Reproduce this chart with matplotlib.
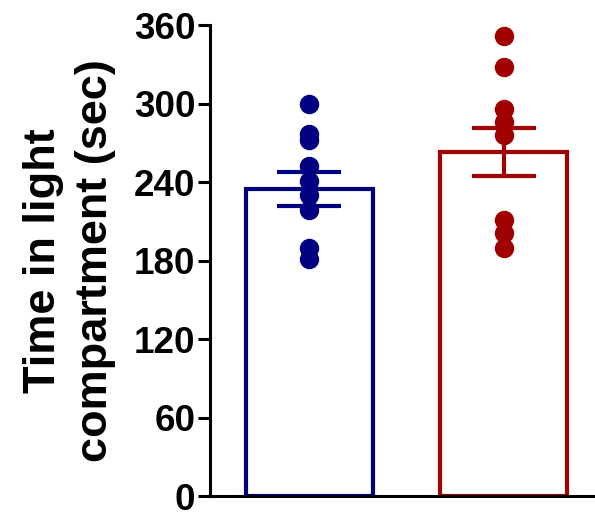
#!/usr/bin/env python3
# Bar + scatter chart: time in light compartment

import numpy as np
import matplotlib
matplotlib.use("Agg")
import matplotlib.pyplot as plt

# Data
groups = ["Group 1", "Group 2"]
colors = ["#000080", "#A00000"]
means = [235, 263]
sems = [13, 18]
points_blue = [300, 277, 272, 252, 241, 230, 219, 190, 181]
points_red = [352, 328, 296, 286, 276, 211, 201, 190]
yticks = [0, 60, 120, 180, 240, 300, 360]

plt.rcParams["font.family"] = ["Liberation Sans", "DejaVu Sans"]
plt.rcParams["font.weight"] = "bold"

fig = plt.figure(figsize=(5.95, 5.13), dpi=100)
ax = fig.add_axes([0.353, 0.033, 0.647, 0.918])

x = np.arange(len(groups))

# Open bars
ax.bar(x, means, width=0.655, color="white", edgecolor=colors,
       linewidth=3.0, zorder=1)

# Error bars (SEM)
for xi, m, s, c in zip(x, means, sems, colors):
    ax.errorbar(xi, m, yerr=s, color=c, elinewidth=3.0, capsize=23,
                capthick=3.0, zorder=2)

# Individual points
for xi, pts, c in zip(x, [points_blue, points_red], colors):
    ax.plot(np.full(len(pts), xi), pts, "o", color=c, markersize=14,
            markeredgewidth=0, zorder=3)

ax.set_xlim(-0.51, 1.47)
ax.set_ylim(0, 360)
ax.set_yticks(yticks)
ax.set_xticks([])

for side in ["top", "right"]:
    ax.spines[side].set_visible(False)
ax.spines["left"].set_linewidth(2.2)
ax.spines["bottom"].set_linewidth(2.2)
ax.tick_params(axis="y", length=8.5, width=2.2, labelsize=26.5, pad=2)

for lbl in ax.get_yticklabels():
    lbl.set_fontweight("bold")

ax.set_ylabel("Time in light\ncompartment (sec)", fontsize=32.5,
              fontweight="bold", linespacing=1.35)
ax.yaxis.set_label_coords(-0.244, 0.501)

fig.savefig("out.png", dpi=100)
